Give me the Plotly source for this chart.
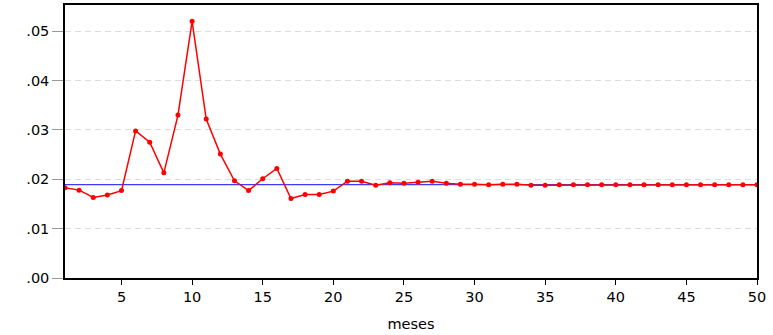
import plotly.graph_objects as go

months = list(range(1, 51))
values = [0.0183, 0.0178, 0.0163, 0.0168, 0.0177, 0.0298, 0.0275, 0.0213, 0.0330, 0.0520,
          0.0322, 0.0251, 0.0197, 0.0177, 0.0201, 0.0222, 0.0161, 0.0169, 0.0169, 0.0176,
          0.0196, 0.0196, 0.0188, 0.0193, 0.0192, 0.0194, 0.0196, 0.0192, 0.0190, 0.0190,
          0.0189, 0.0190, 0.0190, 0.0188, 0.0188, 0.0189, 0.0189, 0.0189, 0.0189, 0.0189,
          0.0189, 0.0189, 0.0189, 0.0189, 0.0189, 0.0189, 0.0189, 0.0189, 0.0189, 0.0189]
mean_level = 0.0189
ytick_vals = [0.0, 0.01, 0.02, 0.03, 0.04, 0.05]
ytick_text = [".00", ".01", ".02", ".03", ".04", ".05"]
xtick_vals = [5, 10, 15, 20, 25, 30, 35, 40, 45, 50]

fig = go.Figure()
fig.add_trace(go.Scatter(x=[months[0], months[-1]], y=[mean_level, mean_level], mode="lines",
                         line=dict(color="#3c3cff", width=1.2), showlegend=False, hoverinfo="skip"))
fig.add_trace(go.Scatter(x=months, y=values, mode="lines+markers",
                         line=dict(color="#ff0000", width=1.5),
                         marker=dict(color="#ff0000", size=5), showlegend=False))

font = dict(family="DejaVu Sans", size=14.5, color="#000000")
fig.update_layout(
    width=773, height=335,
    margin=dict(l=65, r=16, t=5, b=57),
    paper_bgcolor="white", plot_bgcolor="white",
    font=font,
    xaxis=dict(range=[1, 50], tickvals=xtick_vals, ticks="outside", ticklen=5,
               tickcolor="#000000", showgrid=False, zeroline=False, automargin=False,
               showline=True, linecolor="#000000", linewidth=1.5, mirror=True,
               title=dict(text="meses", font=font, standoff=15)),
    yaxis=dict(range=[0, 0.0553], tickvals=ytick_vals, ticktext=ytick_text,
               ticks="outside", ticklen=11, tickcolor="#999999", automargin=False,
               showgrid=True, gridcolor="#dddddd", griddash="6px,4px", gridwidth=1,
               zeroline=False, showline=True, linecolor="#000000", linewidth=1.5,
               mirror=True),
)
fig.write_html("out.html")
